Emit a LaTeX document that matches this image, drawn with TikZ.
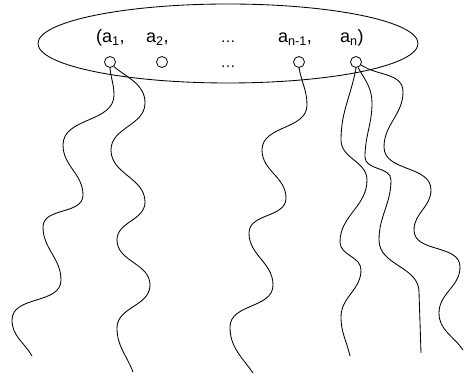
\documentclass[tikz,border=0pt]{standalone}
\usepackage{fontspec}
\setmainfont{Liberation Sans}
\usetikzlibrary{shapes.geometric}
\tikzset{
    tuplebox/.style={ellipse, draw=black, line width=0.85pt, minimum width=380pt,
        minimum height=79pt, inner sep=0pt},
    port/.style={circle, draw=black, line width=0.8pt, minimum size=11pt, inner sep=0pt},
    elem/.style={anchor=base west, inner sep=0pt, font=\fontsize{18}{21}\selectfont},
    ellip/.style={anchor=base, inner sep=0pt, font=\fontsize{15}{18}\selectfont},
    wave/.style={draw=black, line width=0.85pt, out=-90, in=90},
}

\begin{document}
\begin{tikzpicture}[x=1pt, y=1pt]
    \useasboundingbox (0,0) rectangle (464,380);
    \node[tuplebox] (tuple) at (228,336.5) {};
    % the tuple
    \node[elem] (t1) at (96,337.5) {(a\textsubscript{1},};
    \node[elem] (t2) at (146,337.5) {a\textsubscript{2},};
    \node[ellip] (tdots) at (228,337) {\dots};
    \node[elem] (tn1) at (278,337.5) {a\textsubscript{n-1},};
    \node[elem] (tn) at (340,337.5) {a\textsubscript{n})};
    % one port per element
    \node[port] (a1) at (110,318) {};
    \node[port] (a2) at (162,318) {};
    \node[ellip] (pdots) at (228,312) {\dots};
    \node[port] (an1) at (299,318) {};
    \node[port] (an) at (356,318) {};
    % free ends of the strands
    \coordinate (e1) at (32,24);
    \coordinate (e2) at (133,8);
    \coordinate (e3) at (253,7);
    \coordinate (e4) at (350,24);
    \coordinate (e5) at (421,27);
    \coordinate (e6) at (463,30);
    % strands
    \draw[wave] (a1.south) to[out=-85] (114,285) to (63,235) to (83,185) to (43,153)
        to (61,100) to (12,60) to[in=120] (e1);
    \draw[wave] (a1.-50) to[out=-40] (145,277) to (111,230) to (145,178) to (117,140)
        to (150,95) to (117,52) to[in=111] (e2);
    \draw[wave] (an1.south) to[out=-80] (307,275) to (262,230) to (286,182) to (249,147)
        to (273,95) to (230,53) to[in=125] (e3);
    \draw[wave] (an.south) to[out=-100] (341,240) to (367,200) to (340,138) to (361,110)
        to (341,63) to[in=103] (e4);
    \draw[wave] (an.-70) to[out=-60] (372,277) to (365,223) to (391,200) to (379,140)
        to (419,88) -- (e5);
    \draw[wave] (an.-30) to[out=-35] (403,288) to (384,233) to (431,190) to (414,150)
        to (460,113) to (439,67) to[in=124] (e6);
\end{tikzpicture}
\end{document}
